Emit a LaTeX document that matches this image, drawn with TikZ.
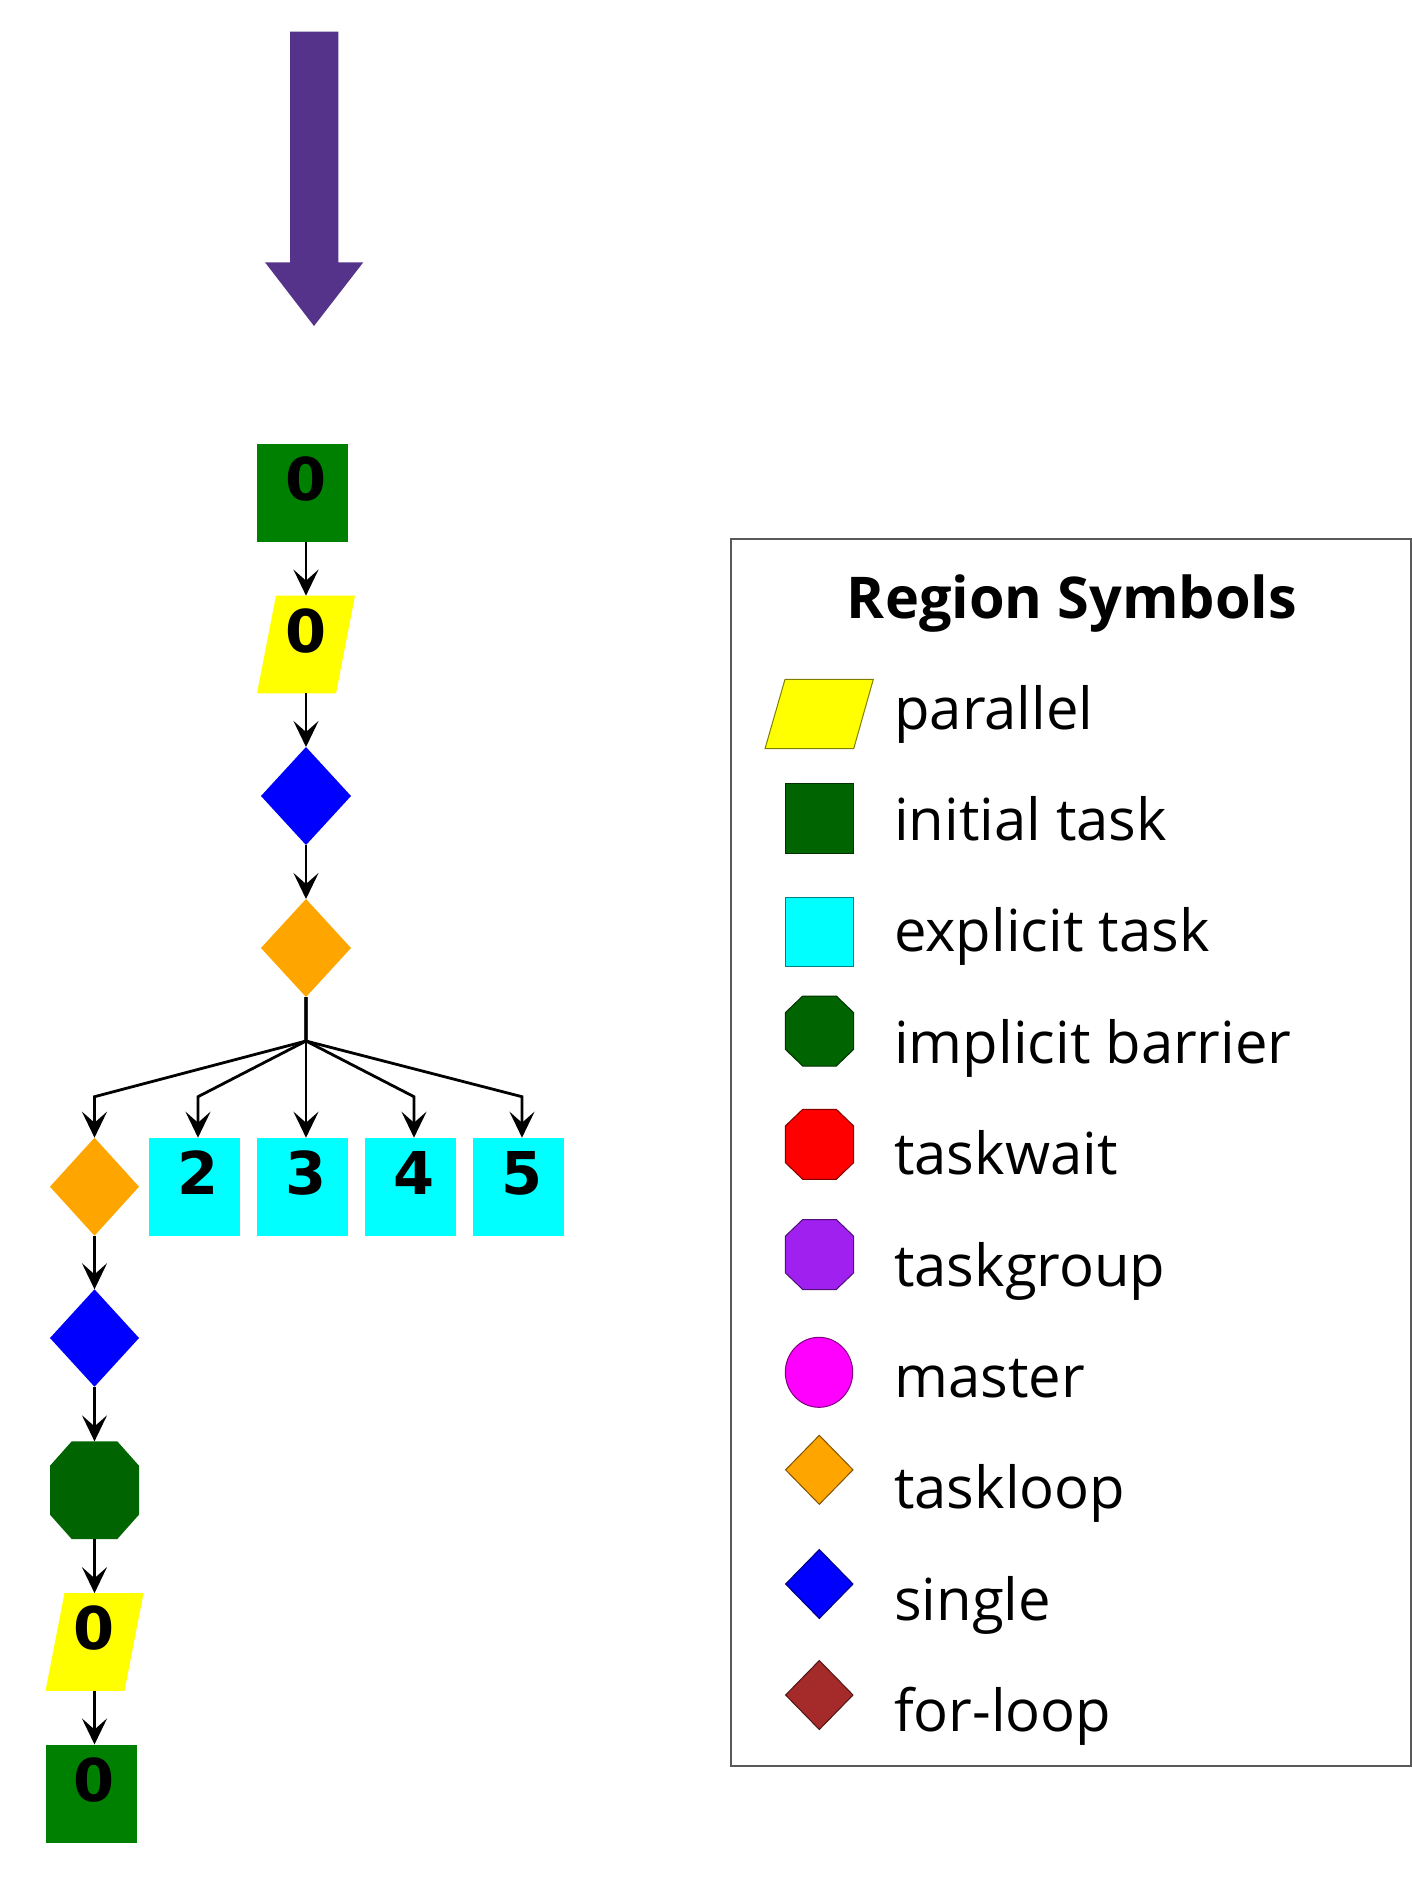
\documentclass[tikz,border=0pt]{standalone}
\usepackage{fontspec}
\setmainfont{Open Sans}
\newfontfamily\digitfont{DejaVu Sans}
\usetikzlibrary{arrows.meta,shapes.geometric}
\pgfdeclarelayer{shapes}
\pgfsetlayers{shapes,main}

\definecolor{arrowpurple}{RGB}{85,51,139}
\definecolor{taskgreen}{RGB}{0,128,0}
\definecolor{barriergreen}{RGB}{0,100,0}
\definecolor{loopOrange}{RGB}{255,165,0}
\definecolor{groupPurple}{RGB}{160,32,240}
\definecolor{forBrown}{RGB}{165,42,42}
\definecolor{parYellow}{RGB}{255,255,0}
\definecolor{taskCyan}{RGB}{0,255,255}
\definecolor{masterMagenta}{RGB}{255,0,255}
\definecolor{singleBlue}{RGB}{0,0,255}
\definecolor{waitRed}{RGB}{255,0,0}

\tikzset{
  numbered/.style={inner sep=0pt, outer sep=0pt, text height=43pt, text depth=28pt,
    font=\digitfont\bfseries\fontsize{59pt}{59pt}\selectfont},
  taskbox/.style={numbered, rectangle, fill=#1, minimum width=91pt, minimum height=98pt},
  pgrambox/.style={numbered, rectangle, minimum width=79pt, minimum height=97.7pt},
  rhombus/.style={diamond, fill=#1, inner sep=0pt, outer sep=0pt,
    minimum width=90pt, minimum height=98pt},
  octbox/.style={rectangle, inner sep=0pt, outer sep=0pt, minimum width=89pt, minimum height=97.7pt},
  flow/.style={line width=2.8pt, -{Stealth[length=26pt,width=25pt,inset=11pt]}},
  legtext/.style={anchor=base west, inner sep=0pt, font=\fontsize{58pt}{58pt}\selectfont},
  legtitle/.style={anchor=base, inner sep=0pt, font=\bfseries\fontsize{57.6pt}{57.6pt}\selectfont},
  legshape/.style={fill=#1, draw=#1!50!black, line width=1pt},
  legendframe/.style={draw=black!65, line width=1.5pt},
}

% legend symbols
\newcommand\legoct[2]{\draw[legshape=#1] (802.7,#2-35) -- (836.3,#2-35) -- (853.7,#2-18.3)
  -- (853.7,#2+18.3) -- (836.3,#2+35) -- (802.7,#2+35) -- (785.3,#2+18.3) -- (785.3,#2-18.3) -- cycle;}
\newcommand\legdia[2]{\draw[legshape=#1] (819.3,#2-34.5) -- (853,#2) -- (819.3,#2+34.5) -- (785.6,#2) -- cycle;}
% fills for node outlines that are not standard shapes
\newcommand\pgramfill[2]{\fill[#2] ([xshift=-9.5pt]#1.south west) -- ([xshift=-9.5pt]#1.south east)
  -- ([xshift=9.5pt]#1.north east) -- ([xshift=9.5pt]#1.north west) -- cycle;}
\newcommand\octfill[2]{\fill[#2] ([xshift=21.7pt]#1.north west) -- ([xshift=-21.7pt]#1.north east)
  -- ([yshift=-24.4pt]#1.north east) -- ([yshift=24.4pt]#1.south east) -- ([xshift=-21.7pt]#1.south east)
  -- ([xshift=21.7pt]#1.south west) -- ([yshift=24.4pt]#1.south west) -- ([yshift=-24.4pt]#1.north west) -- cycle;}

\begin{document}
\begin{tikzpicture}[x=1pt,y=-1pt]
\useasboundingbox (0,0) rectangle (1412,1890);

% entry arrow
\fill[arrowpurple] (290,31.7) -- (338.3,31.7) -- (338.3,262.3) -- (363.3,262.3)
  -- (314,326) -- (265,262.3) -- (290,262.3) -- cycle;

% graph nodes
\node[taskbox=taskgreen] (t0) at (302.5,493) {\hspace*{7pt}0};
\node[pgrambox] (p0) at (306,644.5) {0};
\node[rhombus=singleBlue] (s0) at (306,796) {};
\node[rhombus=loopOrange] (l0) at (306,948) {};
\node[rhombus=loopOrange, minimum width=89pt] (l1) at (94.5,1186.7) {};
\node[taskbox=taskCyan] (e2) at (194.5,1186.7) {\hspace*{7pt}2};
\node[taskbox=taskCyan] (e3) at (302.5,1186.7) {\hspace*{7pt}3};
\node[taskbox=taskCyan] (e4) at (410.5,1186.7) {\hspace*{7pt}4};
\node[taskbox=taskCyan] (e5) at (518.5,1186.7) {\hspace*{7pt}5};
\node[rhombus=singleBlue, minimum width=89pt, minimum height=97.4pt] (s1) at (94.5,1338) {};
\node[octbox] (b1) at (94.5,1490.2) {};
\node[pgrambox] (p1) at (94.5,1642) {0};
\node[taskbox=taskgreen] (t1) at (91,1793.5) {\hspace*{7pt}0};

\begin{pgfonlayer}{shapes}
  \fill[white] (0,0) rectangle (1412,1890);
  \pgramfill{p0}{parYellow}
  \pgramfill{p1}{parYellow}
  \octfill{b1}{barriergreen}
\end{pgfonlayer}

% edges
\coordinate (fork) at (306,1041);
\coordinate (k1) at (94.5,1096.7);
\coordinate (k2) at (198,1096.7);
\coordinate (k4) at (414,1096.7);
\coordinate (k5) at (522,1096.7);
\draw[flow] ([xshift=3.5pt]t0.south) -- (p0.north);
\draw[flow] (p0.south) -- (s0.north);
\draw[flow] (s0.south) -- (l0.north);
\draw[flow] (l0.south) -- (fork) -- (k1) -- (l1.north);
\draw[flow] (l0.south) -- (fork) -- (k2) -- ([xshift=3.5pt]e2.north);
\draw[flow] (l0.south) -- (fork) -- ([xshift=3.5pt]e3.north);
\draw[flow] (l0.south) -- (fork) -- (k4) -- ([xshift=3.5pt]e4.north);
\draw[flow] (l0.south) -- (fork) -- (k5) -- ([xshift=3.5pt]e5.north);
\draw[flow] (l1.south) -- (s1.north);
\draw[flow] (s1.south) -- (b1.north);
\draw[flow] (b1.south) -- (p1.north);
\draw[flow] (p1.south) -- ([xshift=3.5pt]t1.north);

% legend
\draw[legendframe] (731,539) rectangle (1411,1766);
\node[legtitle] (title) at (1072,618.3) {Region Symbols};

\draw[legshape=parYellow] (765,748.7) -- (853.7,748.7) -- (873.3,679.3) -- (785,679.3) -- cycle;
\draw[legshape=barriergreen] (785.3,783) rectangle (853.7,853);
\draw[legshape=taskCyan] (785.3,897) rectangle (853.7,966.7);
\legoct{barriergreen}{1031}
\legoct{waitRed}{1144.3}
\legoct{groupPurple}{1254.5}
\draw[legshape=masterMagenta] (819,1372.3) ellipse[x radius=33.7pt, y radius=35pt];
\legdia{loopOrange}{1469.8}
\legdia{singleBlue}{1584}
\legdia{forBrown}{1695}

\node[legtext] (n1) at (894,729) {parallel};
\node[legtext] (n2) at (894,840.4) {initial task};
\node[legtext] (n3) at (894,951.8) {explicit task};
\node[legtext] (n4) at (894,1063.2) {implicit barrier};
\node[legtext] (n5) at (894,1174.6) {taskwait};
\node[legtext] (n6) at (894,1286) {taskgroup};
\node[legtext] (n7) at (894,1397.4) {master};
\node[legtext] (n8) at (894,1508.8) {taskloop};
\node[legtext] (n9) at (894,1620.2) {single};
\node[legtext] (n10) at (894,1731.6) {for-loop};
\end{tikzpicture}
\end{document}
